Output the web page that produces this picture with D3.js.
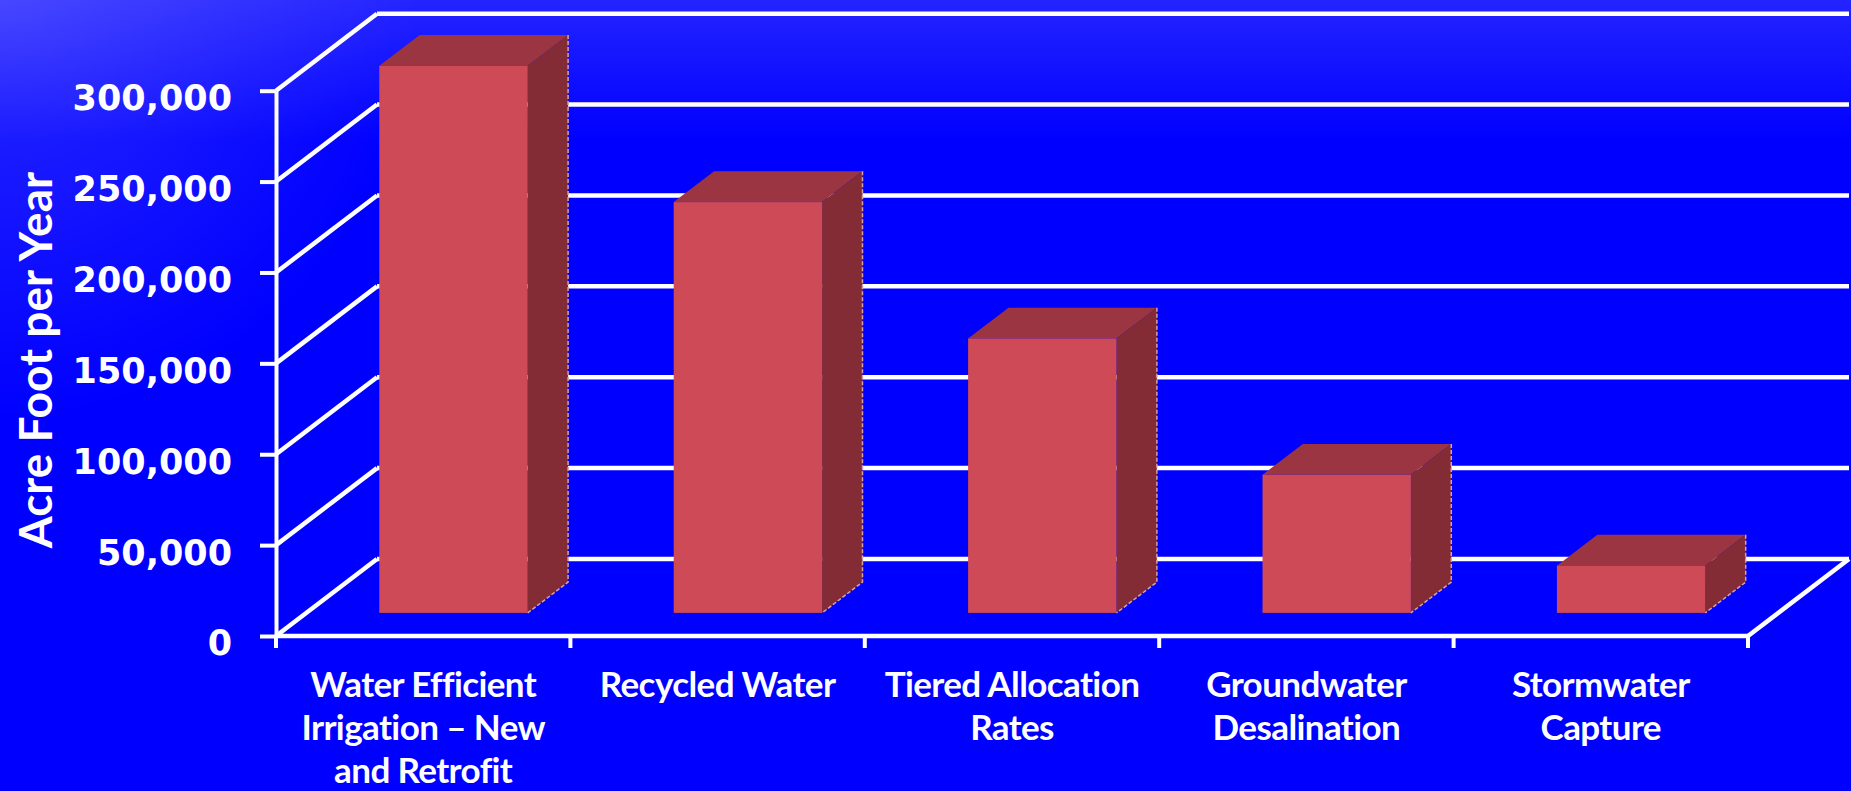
<!DOCTYPE html>
<html lang="en">
<head>
<meta charset="UTF-8" />
<script src="https://d3js.org/d3.v7.min.js"></script>
<title>Acre Foot per Year</title>
<style>
  body { margin: 0; background: #0000ff; overflow: hidden; }
  .y-axis text { font-family: "DejaVu Sans"; font-weight: bold; font-size: 35px; fill: #fff; }
  .y-axis line, .y-axis path { stroke: #fff; stroke-width: 4; }
  .cat-label { font-family: Lato; font-weight: bold; font-size: 35px; fill: #fff; letter-spacing: -0.6px; }
  .axis-title { font-family: Lato; font-weight: bold; font-size: 46px; fill: #fff; }
  .grid { stroke: #fff; stroke-width: 4.5; }
</style>
</head>
<body>
<svg id="chart" width="1851" height="791"></svg>
<script>
// data
const categories = [
  "Water Efficient\nIrrigation – New\nand Retrofit",
  "Recycled Water",
  "Tiered Allocation\nRates",
  "Groundwater\nDesalination",
  "Stormwater\nCapture"
];
const values = [301000, 226000, 151000, 76000, 26000];
const yTicks = [0, 50000, 100000, 150000, 200000, 250000, 300000];

const svg = d3.select("#chart");
const W = 1851, H = 791;

// 3d box: how far the back wall sits from the front plane
const depthX = 101, depthY = 77;
const barZ0 = 0.3, barZ1 = 0.7;

const x = d3.scaleBand()
  .domain(categories)
  .range([276, 1748])
  .paddingInner(0.496)
  .paddingOuter(0.248);

const y = d3.scaleLinear().domain([0, 300000]).range([636, 90.7]);

// background gradient
const defs = svg.append("defs");
const lg = defs.append("linearGradient").attr("id", "bg")
  .attr("gradientUnits", "userSpaceOnUse")
  .attr("x1", 0).attr("y1", 0).attr("x2", 0).attr("y2", 140);
lg.append("stop").attr("offset", 0).attr("stop-color", "#2424ff");
lg.append("stop").attr("offset", 1).attr("stop-color", "#0000ff");
const rg = defs.append("radialGradient").attr("id", "glow")
  .attr("gradientUnits", "userSpaceOnUse")
  .attr("cx", 0).attr("cy", 0).attr("r", 420);
rg.append("stop").attr("offset", 0).attr("stop-color", "#fff").attr("stop-opacity", 0.16);
rg.append("stop").attr("offset", 1).attr("stop-color", "#fff").attr("stop-opacity", 0);

svg.append("rect").attr("width", W).attr("height", H).attr("fill", "url(#bg)");
svg.append("rect").attr("width", W).attr("height", H).attr("fill", "url(#glow)");

const x0 = x.range()[0], x1 = x.range()[1];
const y0 = y(0);

// back wall gridlines
svg.append("g").selectAll("line")
  .data(yTicks)
  .join("line")
  .attr("class", "grid")
  .attr("x1", x0 + depthX).attr("x2", x1 + depthX)
  .attr("y1", d => y(d) - depthY).attr("y2", d => y(d) - depthY);

// side wall gridlines
svg.append("g").selectAll("line")
  .data(yTicks)
  .join("line")
  .attr("class", "grid")
  .attr("x1", x0).attr("x2", x0 + depthX)
  .attr("y1", d => y(d)).attr("y2", d => y(d) - depthY);

// floor right edge + front axis line
svg.append("line").attr("class", "grid")
  .attr("x1", x1).attr("y1", y0).attr("x2", x1 + depthX).attr("y2", y0 - depthY);
svg.append("line").attr("class", "grid")
  .attr("x1", x0).attr("y1", y0).attr("x2", x1).attr("y2", y0);

// category boundary ticks
const bounds = d3.range(categories.length + 1).map(i => x0 + i * x.step());
svg.append("g").selectAll("line")
  .data(bounds)
  .join("line")
  .attr("stroke", "#fff").attr("stroke-width", 4)
  .attr("x1", d => d).attr("x2", d => d)
  .attr("y1", y0).attr("y2", y0 + 12);

// y axis
const yAxis = svg.append("g")
  .attr("class", "y-axis")
  .attr("transform", `translate(${x0},0)`)
  .call(d3.axisLeft(y).tickValues(yTicks).tickSize(16).tickSizeOuter(0)
    .tickPadding(28).tickFormat(d3.format(",")));
yAxis.selectAll("text").attr("dy", "0.54em");

// bars
const bw = x.bandwidth();
const ddx = (barZ1 - barZ0) * depthX, ddy = (barZ1 - barZ0) * depthY;
const bars = svg.append("g").selectAll("g")
  .data(values)
  .join("g");

bars.each(function (v, i) {
  const g = d3.select(this);
  const bx = x(categories[i]) + barZ0 * depthX;
  const bx2 = bx + bw;
  const yb = y0 - barZ0 * depthY;
  const yt = y(v) - barZ0 * depthY;
  g.append("polygon")
    .attr("points", [[bx, yt], [bx2, yt], [bx2 + ddx, yt - ddy], [bx + ddx, yt - ddy]].join(" "))
    .attr("fill", "#9c3542");
  g.append("polygon")
    .attr("points", [[bx2, yt], [bx2 + ddx, yt - ddy], [bx2 + ddx, yb - ddy], [bx2, yb]].join(" "))
    .attr("fill", "#842c36");
  g.append("rect")
    .attr("x", bx).attr("y", yt)
    .attr("width", bw).attr("height", yb - yt)
    .attr("fill", "#ce4a56");
  // light edges on the side face
  g.append("path")
    .attr("d", `M${bx2 + ddx},${yt - ddy}L${bx2 + ddx},${yb - ddy}L${bx2},${yb}`)
    .attr("fill", "none")
    .attr("stroke", "#d9a0a4")
    .attr("stroke-width", 1.5)
    .attr("stroke-dasharray", "4,2");
});

// category labels
const labels = svg.append("g").selectAll("text")
  .data(categories)
  .join("text")
  .attr("class", "cat-label")
  .attr("text-anchor", "middle")
  .attr("x", d => x(d) + bw / 2)
  .attr("y", 697);

labels.each(function (d) {
  const t = d3.select(this);
  d.split("\n").forEach((line, k) => {
    t.append("tspan")
      .attr("x", x(d) + bw / 2)
      .attr("dy", k === 0 ? 0 : 43)
      .text(line);
  });
});

// axis title
svg.append("text")
  .attr("class", "axis-title")
  .attr("transform", "translate(52,360) rotate(-90)")
  .attr("text-anchor", "middle")
  .text("Acre Foot per Year");
</script>
</body>
</html>
